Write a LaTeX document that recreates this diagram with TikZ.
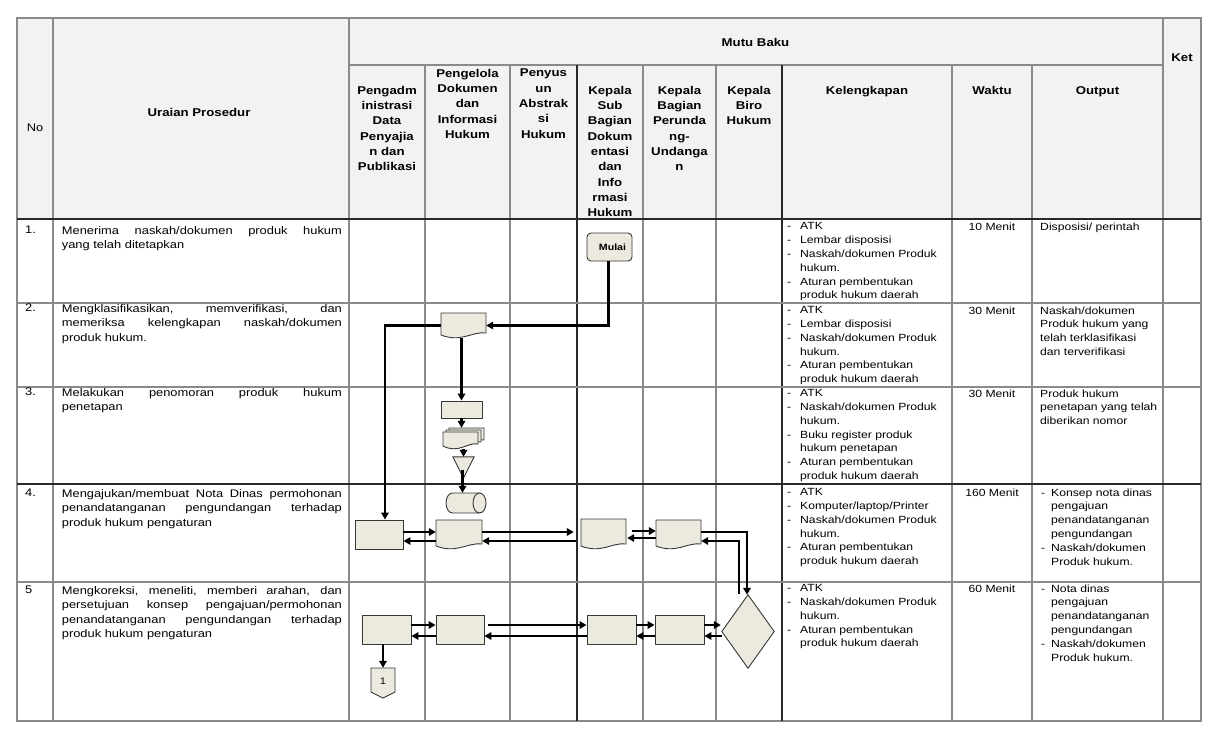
\documentclass[tikz,border=0pt]{standalone}
\usepackage{fontspec}
\setmainfont{Liberation Sans}[FakeStretch=1.17]
\usetikzlibrary{arrows.meta,calc}
\definecolor{gridg}{RGB}{138,138,138}
\definecolor{gridk}{RGB}{40,40,40}
\definecolor{hdrfill}{RGB}{242,242,242}
\definecolor{shp}{RGB}{236,234,222}
\definecolor{shpb}{RGB}{55,55,55}
\newcommand\docshape[4]{%
  \draw[flowbox] (#1,#2) -- ({#1+#3},#2) -- ({#1+#3},{#2+#4-5})
    .. controls ({#1+0.7*#3},{#2+#4-7}) and ({#1+0.45*#3},{#2+#4+5}) .. (#1,{#2+#4-3}) -- cycle;}
\newcommand\itm[1]{\makebox[13pt][l]{-}#1}
\newcommand\cnt[1]{\hspace*{13pt}#1}
\newcommand\oitm[1]{\makebox[10pt][l]{-}#1}
\newcommand\ocnt[1]{\hspace*{10pt}#1}
\newcommand\jl[1]{\makebox[280pt][s]{#1}}
\tikzset{
  gline/.style={draw=gridg,line width=1.2pt},
  kline/.style={draw=gridk,line width=1.2pt},
  hdtext/.style={font=\fontsize{11.3}{15.3}\selectfont\bfseries,align=center,anchor=north,inner sep=0pt},
  urtext/.style={font=\fontsize{11}{14.5}\selectfont,align=left,anchor=north west,inner sep=0pt},
  bdtext/.style={font=\fontsize{10.4}{13.8}\selectfont,align=left,anchor=north west,inner sep=0pt},
  flowbox/.style={draw=shpb,fill=shp,line width=0.9pt},
  rectbox/.style={flowbox,inner sep=0pt},
  ghost/.style={inner sep=0pt,draw=none,fill=none},
  arr/.style={draw=black,line width=2.4pt,-{Triangle[length=7pt,width=7.5pt]}},
}
\begin{document}
\begin{tikzpicture}[x=1pt,y=-1pt]
\useasboundingbox (0,0) rectangle (1220,740);
\fill[white] (0,0) rectangle (1220,740);
\fill[hdrfill] (17,18) rectangle (1201,219);
% grid
\draw[gridg,line width=1.6pt] (17,18) rectangle (1201,721);
\draw[gline] (53,18) -- (53,721);
\draw[gline] (349,18) -- (349,721);
\draw[gline] (1163,18) -- (1163,721);
\draw[gline] (349,65) -- (1163,65);
\foreach \x in {425,510,643,716,952,1032} \draw[gline] (\x,65) -- (\x,721);
\foreach \x in {577,782} \draw[kline] (\x,65) -- (\x,721);
\foreach \y in {303,387,582} \draw[gline] (17,\y) -- (1201,\y);
\foreach \y in {219,484} \draw[kline] (17,\y) -- (1201,\y);
% header texts
\node[hdtext] (hMutu) at (755.5,38.5) {Mutu Baku};
\node[hdtext] (hKet) at (1182,54) {Ket};
\node[urtext] (hNo) at (26.7,123.6) {No};
\node[hdtext] (hUraian) at (199,108) {Uraian Prosedur};
\node[hdtext] (hc1) at (387,86) {Pengadm\\inistrasi\\Data\\Penyajia\\n dan\\Publikasi};
\node[hdtext] (hc2) at (467.5,69) {Pengelola\\Dokumen\\dan\\Informasi\\Hukum};
\node[hdtext] (hc3) at (543.5,69) {Penyus\\un\\Abstrak\\si\\Hukum};
\node[hdtext] (hc4) at (610,86) {Kepala\\Sub\\Bagian\\Dokum\\entasi\\dan\\Info\\rmasi\\Hukum};
\node[hdtext] (hc5) at (679.5,86) {Kepala\\Bagian\\Perunda\\ng-\\Undanga\\n};
\node[hdtext] (hc6) at (749,86) {Kepala\\Biro\\Hukum};
\node[hdtext] (hc7) at (867,86) {Kelengkapan};
\node[hdtext] (hc8) at (992,86) {Waktu};
\node[hdtext] (hc9) at (1097.5,86) {Output};
% row numbers and procedures
\node[urtext] (n1) at (25,226) {1.};
\node[urtext] (n2) at (25,304) {2.};
\node[urtext] (n3) at (25,388) {3.};
\node[urtext] (n4) at (25,489) {4.};
\node[urtext] (n5) at (25,586) {5};
\node[urtext] (u1) at (61.7,226) {\jl{Menerima naskah/dokumen produk hukum}\\yang telah ditetapkan};
\node[urtext] (u2) at (61.7,304) {\jl{Mengklasifikasikan, memverifikasi, dan}\\\jl{memeriksa kelengkapan naskah/dokumen}\\produk hukum.};
\node[urtext] (u3) at (61.7,388) {\jl{Melakukan penomoran produk hukum}\\penetapan};
\node[urtext] (u4) at (61.7,489) {\jl{Mengajukan/membuat Nota Dinas permohonan}\\\jl{penandatanganan pengundangan terhadap}\\produk hukum pengaturan};
\node[urtext] (u5) at (61.7,586) {\jl{Mengkoreksi, meneliti, memberi arahan, dan}\\\jl{persetujuan konsep pengajuan/permohonan}\\\jl{penandatanganan pengundangan terhadap}\\produk hukum pengaturan};
% kelengkapan
\node[bdtext] (k1) at (787,222.6) {\itm{ATK}\\\itm{Lembar disposisi}\\\itm{Naskah/dokumen Produk}\\\cnt{hukum.}\\\itm{Aturan pembentukan}\\\cnt{produk hukum daerah}};
\node[bdtext] (k2) at (787,306.3) {\itm{ATK}\\\itm{Lembar disposisi}\\\itm{Naskah/dokumen Produk}\\\cnt{hukum.}\\\itm{Aturan pembentukan}\\\cnt{produk hukum daerah}};
\node[bdtext] (k3) at (787,389.3) {\itm{ATK}\\\itm{Naskah/dokumen Produk}\\\cnt{hukum.}\\\itm{Buku register produk}\\\cnt{hukum penetapan}\\\itm{Aturan pembentukan}\\\cnt{produk hukum daerah}};
\node[bdtext] (k4) at (787,488.3) {\itm{ATK}\\\itm{Komputer/laptop/Printer}\\\itm{Naskah/dokumen Produk}\\\cnt{hukum.}\\\itm{Aturan pembentukan}\\\cnt{produk hukum daerah}};
\node[bdtext] (k5) at (787,584.3) {\itm{ATK}\\\itm{Naskah/dokumen Produk}\\\cnt{hukum.}\\\itm{Aturan pembentukan}\\\cnt{produk hukum daerah}};
% waktu
\node[bdtext,anchor=north] (w1) at (992,222.6) {10 Menit};
\node[bdtext,anchor=north] (w2) at (992,306.3) {30 Menit};
\node[bdtext,anchor=north] (w3) at (992,389.3) {30 Menit};
\node[bdtext,anchor=north] (w4) at (992,488.3) {160 Menit};
\node[bdtext,anchor=north] (w5) at (992,584.3) {60 Menit};
% output
\node[bdtext] (o1) at (1040,222.6) {Disposisi/ perintah};
\node[bdtext] (o2) at (1040,306.3) {Naskah/dokumen\\Produk hukum yang\\telah terklasifikasi\\dan terverifikasi};
\node[bdtext] (o3) at (1040,389.3) {Produk hukum\\penetapan yang telah\\diberikan nomor};
\node[bdtext] (o4) at (1041,488.3) {\oitm{Konsep nota dinas}\\\ocnt{pengajuan}\\\ocnt{penandatanganan}\\\ocnt{pengundangan}\\\oitm{Naskah/dokumen}\\\ocnt{Produk hukum.}};
\node[bdtext] (o5) at (1041,584.3) {\oitm{Nota dinas}\\\ocnt{pengajuan}\\\ocnt{penandatanganan}\\\ocnt{pengundangan}\\\oitm{Naskah/dokumen}\\\ocnt{Produk hukum.}};
% ---------- flow shapes ----------
\node[rectbox,rounded corners=4pt,minimum width=45,minimum height=28,font=\fontsize{9.1}{10}\selectfont\bfseries] (mulai) at (609.5,247) {\hspace*{6pt}Mulai};
% document row 2
\node[ghost,minimum width=45,minimum height=25] (d1) at (463.5,325.5) {};
\docshape{441}{313}{45}{25}
% row 3
\node[rectbox,minimum width=41,minimum height=17] (r3) at (461.5,409.5) {};
\node[ghost,minimum width=41,minimum height=21] (md) at (463.5,438.5) {};
\docshape{449}{428}{35}{17}
\docshape{446}{430}{35}{17}
\docshape{443}{432}{35}{17}
\node[ghost,minimum width=21,minimum height=21] (tri) at (463.5,467.5) {};
\draw[flowbox] (tri.north west) -- (tri.north east) -- (tri.south) -- cycle;
% row 4
\node[ghost,minimum width=40,minimum height=20] (cyl) at (466,503) {};
\draw[flowbox] (452.5,493) -- (479.5,493) arc[start angle=-90,end angle=90,x radius=6.5,y radius=10] -- (452.5,513) arc[start angle=90,end angle=270,x radius=6.5,y radius=10] -- cycle;
\draw[draw=shpb,line width=0.9pt] (479.5,493) arc[start angle=270,end angle=90,x radius=6.5,y radius=10];
\node[rectbox,minimum width=48,minimum height=29] (A) at (379,534.5) {};
\node[ghost,minimum width=46,minimum height=29] (B) at (459,534.5) {};
\docshape{436}{520}{46}{29}
\node[ghost,minimum width=45,minimum height=30] (C) at (603.5,534) {};
\docshape{581}{519}{45}{30}
\node[ghost,minimum width=45,minimum height=29] (D) at (678.5,534.5) {};
\docshape{656}{520}{45}{29}
% row 5
\node[rectbox,minimum width=49,minimum height=29] (E) at (386.5,629.5) {};
\node[rectbox,minimum width=48,minimum height=29] (F) at (460,629.5) {};
\node[rectbox,minimum width=49,minimum height=29] (G) at (611.5,629.5) {};
\node[rectbox,minimum width=49,minimum height=29] (H) at (679.5,629.5) {};
\node[ghost,minimum width=52,minimum height=73] (dia) at (748,631.5) {};
\draw[flowbox] (dia.north) -- (dia.east) -- (dia.south) -- (dia.west) -- cycle;
\node[ghost,minimum width=24,minimum height=30] (conn) at (383,683) {};
\draw[flowbox] (371,668) -- (395,668) -- (395,692) -- (383,698) -- (371,692) -- cycle;
\node[inner sep=0pt,font=\fontsize{9.5}{10}\selectfont] (connlbl) at (383,681) {1};
% ---------- connectors ----------
\coordinate (r4a) at (0,532);
\coordinate (r4b) at (0,541);
\coordinate (r4c) at (0,531);
\coordinate (r4d) at (0,538);
\coordinate (r5a) at (0,625);
\coordinate (r5b) at (0,636);
\draw[arr] ([xshift=-1pt]mulai.south) |- (d1.east);
\draw[arr] (d1.west) -| ($(A.north)+(6,0)$);
\draw[arr] (r3.north |- d1.south) -- (r3.north);
\draw[arr] (r3.south) -- (r3.south |- md.north);
\draw[arr] (tri.north |- md.south) -- (tri.north);
\draw[arr] ($(tri.south)+(-1,-8)$) -- ($(tri.south |- cyl.north)+(-1,0)$);
\draw[arr] (A.east |- r4a) -- (B.west |- r4a);
\draw[arr] (B.west |- r4b) -- (A.east |- r4b);
\draw[arr] (B.east |- r4a) -- ($(C.west |- r4a)+(-7,0)$);
\draw[arr] ($(C.west |- r4b)+(-5,0)$) -- (B.east |- r4b);
\draw[arr] ($(C.east |- r4c)+(6,0)$) -- (D.west |- r4c);
\draw[arr] (D.west |- r4d) -- ($(C.east |- r4d)+(1,0)$);
\draw[arr] (D.east |- r4a) -| ([xshift=-1pt]dia.north);
\draw[arr] ($(dia.north)+(-9,-1)$) |- (D.east |- r4b);
\draw[arr] (E.east |- r5a) -- (F.west |- r5a);
\draw[arr] (F.west |- r5b) -- (E.east |- r5b);
\draw[arr] ($(F.east |- r5a)+(4,0)$) -- (G.west |- r5a);
\draw[arr] (G.west |- r5b) -- (F.east |- r5b);
\draw[arr] (G.east |- r5a) -- (H.west |- r5a);
\draw[arr] (H.west |- r5b) -- (G.east |- r5b);
\draw[arr] (H.east |- r5a) -- ($(dia.west |- r5a)+(-1,0)$);
\draw[arr] (dia.west |- r5b) -- (H.east |- r5b);
\draw[arr] (conn.north |- E.south) -- (conn.north);
\end{tikzpicture}
\end{document}
